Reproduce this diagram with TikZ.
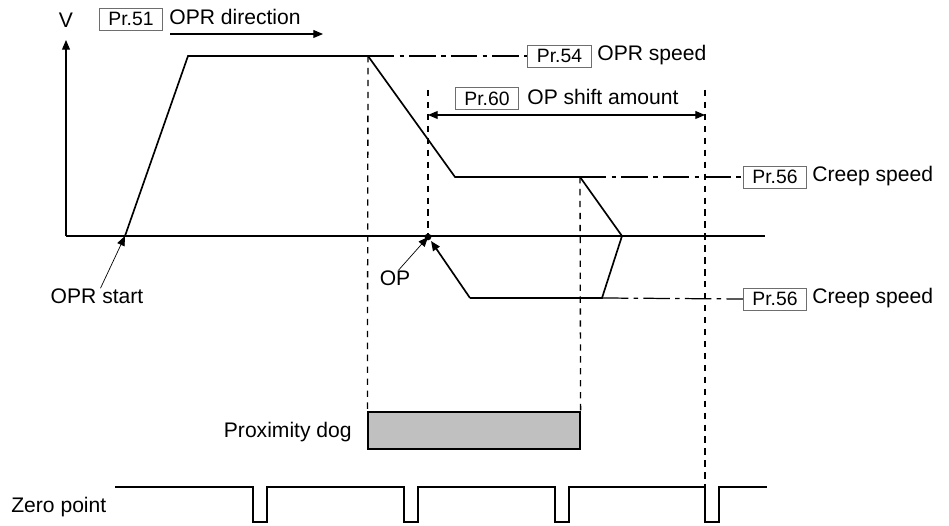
\documentclass[tikz,border=0pt]{standalone}
\usepackage{fontspec}
\setmainfont{Liberation Sans}
\usepackage{tikz}
\usetikzlibrary{arrows.meta}

\definecolor{boxgray}{RGB}{110,110,110}
\definecolor{dogfill}{RGB}{192,192,192}

\begin{document}
\begin{tikzpicture}[x=0.02cm, y=-0.02cm, >={Triangle[length=5.5pt,width=4.5pt]},
  txt/.style={inner sep=0pt, font=\fontsize{12}{14}\selectfont},
  prbox/.style={draw=boxgray, line width=0.5pt, minimum width=1.27cm, minimum height=0.44cm,
    inner sep=0pt, font=\fontsize{11}{13}\selectfont},
  profile/.style={line width=0.95pt, line join=miter},
  vdash/.style={line width=0.75pt, dash pattern=on 3.6pt off 3.2pt},
  chain/.style={line width=0.7pt, dash pattern=on 15pt off 3pt on 2.6pt off 3pt},
  ptr/.style={->, line width=0.4pt},
  pulse/.style={line width=1.1pt}]
\useasboundingbox (0,0) rectangle (949,526);

% ---------- axes ----------
\coordinate (o) at (66,236);
\coordinate (vtop) at (66,40);
\coordinate (xend) at (765,236);
\draw[->, line width=0.6pt] (o) -- (vtop);
\draw[line width=0.6pt] (o) -- (xend);
\node[txt] (v) at (66,20) {V};

% ---------- OPR direction ----------
\node[prbox] (pr51) at (131,19) {Pr.51};
\node[txt, anchor=west] (dirlbl) at (169,17) {OPR direction};
\coordinate (dir0) at (170,34);
\coordinate (dir1) at (323,34);
\draw[->, line width=0.6pt] (dir0) -- (dir1);

% ---------- speed profile ----------
\coordinate (p0) at (125,236);
\coordinate (p1) at (188,56);
\coordinate (p2) at (368,56);
\coordinate (p3) at (455,177);
\coordinate (p4) at (580,177);
\coordinate (p5) at (622,236);
\coordinate (p6) at (602,298);
\coordinate (p7) at (470,298);
\coordinate (op) at (428,237);
\coordinate (opend) at (431,241);
\draw[profile] (p0) -- (p1) -- (p2) -- (p3) -- (p4) -- (p5) -- (p6) -- (p7);
\draw[profile, ->] (p7) -- (opend);
\fill (op) circle[radius=1.9pt];

% ---------- labels with pointers ----------
\node[txt] (oprstart) at (97,296) {OPR start};
\draw[ptr] ([xshift=2pt]oprstart.north) -- (p0);
\node[txt] (oplbl) at (395,278) {OP};
\draw[ptr] ([xshift=2pt]oplbl.north) -- (op);

% ---------- speed parameters ----------
\node[prbox] (pr54) at (559.5,56) {Pr.54};
\node[txt, anchor=west] (oprspd) at (597,55) {OPR speed};
\draw[chain] (p2) -- (pr54.west);

\node[prbox] (pr56a) at (775,177) {Pr.56};
\node[txt, anchor=west] (creepa) at (812,176) {Creep speed};
\draw[chain] (p4) -- (pr56a.west);

\node[prbox] (pr56b) at (775,299) {Pr.56};
\node[txt, anchor=west] (creepb) at (812,298) {Creep speed};
\draw[chain] (p6) -- (pr56b.west);

% ---------- OP shift amount ----------
\node[prbox] (pr60) at (487,98.5) {Pr.60};
\node[txt, anchor=west] (shiftlbl) at (527,97) {OP shift amount};
\coordinate (sh0) at (428,90);
\coordinate (sh1) at (705,90);
\coordinate (sha) at (428,115);
\coordinate (shb) at (705,115);
\draw[<->, line width=0.6pt] (sha) -- (shb);

% ---------- proximity dog ----------
\node[draw, fill=dogfill, line width=0.7pt, minimum width=4.24cm, minimum height=0.74cm,
  inner sep=0pt] (dog) at (474,430.5) {};
\node[txt, anchor=east] (doglbl) at (352,432) {Proximity dog};

% ---------- zero point signal ----------
\node[txt, anchor=west] (zerolbl) at (11,507) {Zero point};
\draw[pulse] (115,487)
  foreach \x in {253,404,555,705} { -- (\x,487) -- (\x,522) -- ++(14,0) -- ++(0,-35) }
  -- (767,487);

% ---------- dashed guides ----------
\draw[vdash] (p2) -- (dog.north west);
\draw[vdash] (p4) -- (dog.north east);
\draw[vdash] (sh0) -- (op);
\draw[vdash] (sh1) -- (705,487);

\end{tikzpicture}
\end{document}
